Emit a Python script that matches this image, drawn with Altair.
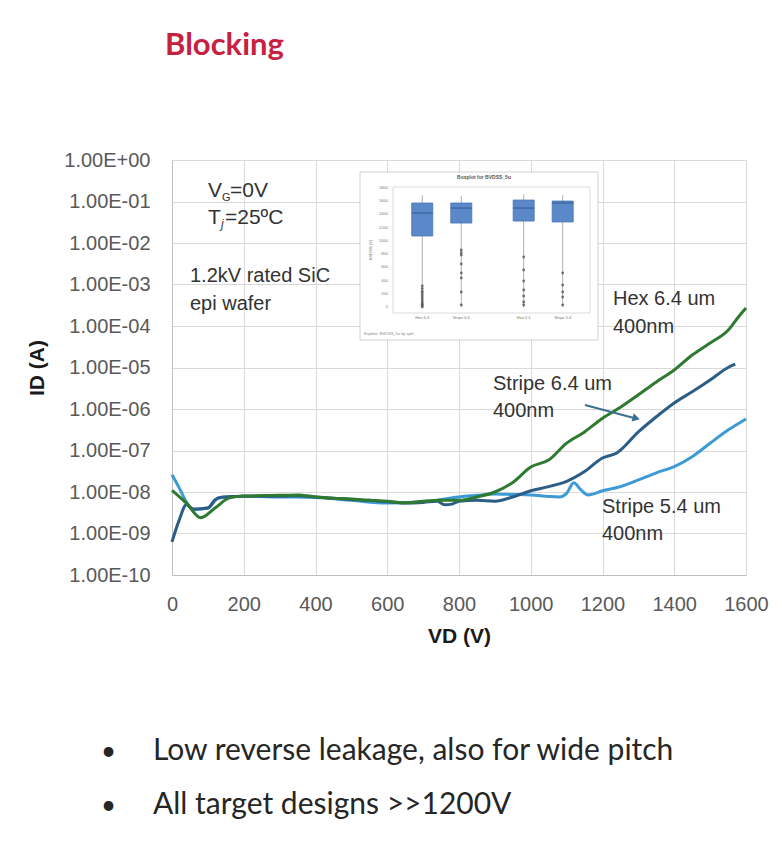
import altair as alt
import pandas as pd

# ---------------- main curves (VD in V, ID in A) ----------------
hex_v = [0, 40, 80, 120, 160, 200, 300, 350, 400, 450, 500, 550, 600, 650, 700, 750, 800, 850,
         900, 950, 1000, 1050, 1100, 1150, 1200, 1250, 1300, 1350, 1400, 1450, 1500, 1550, 1580, 1600]
hex_i = [1.1e-8, 5.4e-9, 2.4e-9, 4.1e-9, 7.2e-9, 8.0e-9, 8.3e-9, 8.5e-9, 7.6e-9, 7.1e-9, 6.8e-9,
         6.3e-9, 6.0e-9, 5.5e-9, 6.0e-9, 6.3e-9, 6.3e-9, 7.6e-9,
         1.0e-8, 1.7e-8, 4.0e-8, 5.9e-8, 1.5e-7, 2.8e-7, 6.0e-7, 1.1e-6, 2.2e-6, 4.5e-6, 8.7e-6,
         2.0e-5, 3.9e-5, 7.9e-5, 1.7e-4, 2.7e-4]

s64_v = [0, 20, 40, 60, 100, 120, 140, 200, 300, 350, 400, 450, 500, 550, 600, 650, 700, 740, 760,
         780, 800, 850, 900, 950, 1000, 1050, 1100, 1150, 1200, 1240, 1300, 1350, 1400, 1450, 1500,
         1550, 1570]
s64_i = [6.3e-10, 2.1e-9, 4.9e-9, 3.9e-9, 4.1e-9, 6.5e-9, 7.6e-9, 7.9e-9, 7.9e-9, 8.1e-9, 7.6e-9,
         7.1e-9, 6.6e-9, 6.3e-9, 5.8e-9, 5.4e-9, 5.6e-9, 6.0e-9, 4.9e-9, 5.1e-9, 6.0e-9, 6.3e-9,
         6.0e-9, 7.6e-9, 1.07e-8, 1.35e-8, 1.8e-8, 3.1e-8, 6.6e-8, 8.7e-8, 2.8e-7, 6.5e-7, 1.4e-6,
         2.6e-6, 5.0e-6, 1.0e-5, 1.2e-5]

s54_v = [0, 20, 40, 60, 80, 100, 130, 200, 300, 400, 500, 600, 700, 800, 850, 900, 950, 1000, 1050,
         1080, 1100, 1120, 1140, 1160, 1200, 1250, 1300, 1350, 1400, 1450, 1500, 1550, 1600]
s54_i = [2.6e-8, 1.26e-8, 5.8e-9, 3.7e-9, 3.9e-9, 4.1e-9, 7.2e-9, 7.9e-9, 7.6e-9, 7.4e-9, 6.3e-9,
         5.4e-9, 5.8e-9, 7.6e-9, 8.3e-9, 8.9e-9, 8.7e-9, 8.5e-9, 7.8e-9, 7.6e-9, 9.3e-9, 1.66e-8,
         1.12e-8, 8.5e-9, 1.07e-8, 1.35e-8, 1.95e-8, 2.9e-8, 4.1e-8, 7.1e-8, 1.5e-7, 3.1e-7, 5.75e-7]

y_ticks = [1e0, 1e-1, 1e-2, 1e-3, 1e-4, 1e-5, 1e-6, 1e-7, 1e-8, 1e-9, 1e-10]
x_ticks = [0, 200, 400, 600, 800, 1000, 1200, 1400, 1600]

# ---------------- inset boxplot (BVDSS, V) ----------------
box_pos = [1.0, 2.0, 3.6, 4.6]
box_q1 = [1074, 1270, 1300, 1286]
box_med = [1422, 1497, 1497, 1573]
box_q3 = [1573, 1573, 1618, 1603]
box_wlo = [0, 0, 0, 0]
box_whi = [1690, 1680, 1700, 1690]
box_labels = ["Hex 6.4", "Stripe 6.4", "Hex 5.4", "Stripe 5.4"]
out_pos = [1.0] * 12 + [2.0] * 8 + [3.6] * 7 + [4.6] * 5
out_val = [0, 20, 40, 60, 90, 120, 150, 180, 210, 240, 280, 320,
           862, 820, 787, 650, 514, 440, 227, 30,
           756, 560, 393, 257, 166, 76, 30,
           514, 333, 227, 151, 30]
inset_yticks = [0, 200, 400, 600, 800, 1000, 1200, 1400, 1600, 1800]

FONT = "Liberation Sans"
GREEN = "#2e7a30"
DKBLUE = "#2c5d86"
LTBLUE = "#3c9ad6"

xs = alt.Scale(domain=[0, 1600], nice=False, zero=False)
ys = alt.Scale(type="log", domain=[1e-10, 1], nice=False)


def curve(v, i, color):
    df = pd.DataFrame({"VD": v, "ID": i})
    return alt.Chart(df).mark_line(color=color, strokeWidth=3, interpolate="monotone").encode(
        x=alt.X("VD:Q", scale=xs, title="VD (V)",
                axis=alt.Axis(values=x_ticks, format="d", grid=True, gridColor="#d9d9d9",
                              domainColor="#bfbfbf",
                              ticks=False, tickSize=0, labelFont=FONT, labelFontSize=20,
                              labelColor="#595959", labelPadding=19, labelFlush=False,
                              titleFont=FONT, titleFontSize=21, titleFontWeight="bold",
                              titleColor="#1a1a1a", titlePadding=11)),
        y=alt.Y("ID:Q", scale=ys, title="ID (A)",
                axis=alt.Axis(values=y_ticks, grid=True, gridColor="#d9d9d9", domainColor="#bfbfbf",
                              ticks=False, tickSize=0, labelFont=FONT, labelFontSize=20,
                              labelColor="#595959", labelPadding=22, labelFlush=False,
                              labelExpr="'1.00E' + (round(log(datum.value)/LN10) < 0 ? '-' : '+') + "
                                        "(abs(round(log(datum.value)/LN10)) < 10 ? '0' : '') + "
                                        "abs(round(log(datum.value)/LN10))",
                              titleFont=FONT, titleFontSize=21, titleFontWeight="bold",
                              titleColor="#1a1a1a", titlePadding=16)),
    )


main = alt.layer(curve(s54_v, s54_i, LTBLUE), curve(s64_v, s64_i, DKBLUE), curve(hex_v, hex_i, GREEN))

# ---------------- inset ----------------
one = pd.DataFrame({"k": [0]})
ix = alt.Scale(domain=[0.25, 5.3], range=[221, 418], nice=False, zero=False)
iy = alt.Scale(domain=[0, 1800], range=[147, 28], nice=False, zero=False)
box_df = pd.DataFrame({"pos": box_pos, "q1": box_q1, "med": box_med, "q3": box_q3,
                       "wlo": box_wlo, "whi": box_whi, "lab": box_labels})
box_df["l"] = box_df["pos"] - 0.27
box_df["r"] = box_df["pos"] + 0.27
out_df = pd.DataFrame({"pos": out_pos, "val": out_val})
itk_df = pd.DataFrame({"v": inset_yticks})

frame = alt.Chart(one).mark_rect(fill="white", stroke="#d0d0d0", strokeWidth=1).encode(
    x=alt.value(188), x2=alt.value(426), y=alt.value(12), y2=alt.value(180))
inner = alt.Chart(one).mark_rect(fill="white", stroke="#dcdcdc", strokeWidth=1).encode(
    x=alt.value(221), x2=alt.value(418), y=alt.value(27), y2=alt.value(153))
whisk = alt.Chart(box_df).mark_rule(color="#9a9a9a", strokeWidth=0.8).encode(
    x=alt.X("pos:Q", scale=ix, axis=None), y=alt.Y("wlo:Q", scale=iy, axis=None), y2="whi:Q")
boxes = alt.Chart(box_df).mark_rect(fill="#5b88c9", stroke="#4a76b6", strokeWidth=0.8).encode(
    x=alt.X("l:Q", scale=ix, axis=None), x2="r:Q",
    y=alt.Y("q1:Q", scale=iy, axis=None), y2="q3:Q")
meds = alt.Chart(box_df).mark_rule(color="#35598f", strokeWidth=1).encode(
    x=alt.X("l:Q", scale=ix, axis=None), x2="r:Q", y=alt.Y("med:Q", scale=iy, axis=None))
outs = alt.Chart(out_df).mark_point(shape="circle", color="#555555", size=8, filled=True, opacity=0.8).encode(
    x=alt.X("pos:Q", scale=ix, axis=None), y=alt.Y("val:Q", scale=iy, axis=None))
itk = alt.Chart(itk_df).mark_text(align="right", baseline="middle", fontSize=4, color="#777777", font=FONT).encode(
    x=alt.value(216), y=alt.Y("v:Q", scale=iy, axis=None), text="v:Q")
ilab = alt.Chart(box_df).mark_text(align="center", baseline="top", fontSize=4, color="#777777", font=FONT).encode(
    x=alt.X("pos:Q", scale=ix, axis=None), y=alt.value(156), text="lab:N")

inset = alt.layer(frame, inner, whisk, boxes, meds, outs, itk, ilab)


# ---------------- text annotations (pixel positions relative to plot area) ----------------
def txt(s, x, y, size, color="#333333", weight="normal", font=FONT, align="left", style="normal", angle=0):
    kw = dict(align=align, baseline="alphabetic", fontSize=size, color=color, fontWeight=weight,
              font=font, fontStyle=style)
    if angle:
        kw["angle"] = angle
    return alt.Chart(pd.DataFrame({"t": [s]})).mark_text(**kw).encode(
        x=alt.value(x), y=alt.value(y), text="t:N")


ann = [
    txt("V", 36, 37, 21),
    txt("G", 50, 41, 11),
    txt("=0V", 58, 37, 21),
    txt("T", 36, 64, 21),
    txt("j", 49, 68, 12, style="italic"),
    txt("=25ºC", 53, 64, 21),
    txt("1.2kV rated SiC", 18, 122, 20),
    txt("epi wafer", 18, 150, 20),
    txt("Hex 6.4 um", 441, 145, 20),
    txt("400nm", 441, 173, 20),
    txt("Stripe 6.4 um", 321, 230, 20),
    txt("400nm", 321, 257, 20),
    txt("Stripe 5.4 um", 430, 353, 20),
    txt("400nm", 430, 380, 20),
    txt("Boxplot for BVDSS_5u", 312, 19, 5, color="#555555", weight="bold", align="center"),
    txt("BVDSS (V)", 200, 90, 4, color="#777777", align="center", angle=270),
    txt("Explore: BVDSS_5u by split", 192, 175, 4, color="#888888"),
    # outside the plot: title and bullets
    txt("Blocking", -7, -105, 31, color="#c8213f", weight="bold", font="Lato"),
    txt("•", -71, 600, 26, color="#262626", font="Lato"),
    txt("Low reverse leakage, also for wide pitch", -19, 600, 30, color="#262626", font="Lato"),
    txt("•", -71, 654, 26, color="#262626", font="Lato"),
    txt("All target designs >>1200V", -19, 654, 30, color="#262626", font="Lato"),
]

arrow_line = alt.Chart(one).mark_rule(color="#3b6f8f", strokeWidth=2).encode(
    x=alt.value(413), x2=alt.value(462), y=alt.value(245), y2=alt.value(258))
arrow_head = alt.Chart(one).mark_point(shape="triangle", filled=True, color="#3b6f8f", size=70,
                                       angle=104, opacity=1).encode(
    x=alt.value(463), y=alt.value(258))

chart = alt.layer(main, inset, arrow_line, arrow_head, *ann).resolve_scale(
    x="independent", y="independent"
).properties(
    width=574, height=415,
    autosize=alt.AutoSizeParams(type="none"),
    padding={"left": 164, "top": 152, "right": 26, "bottom": 250},
    background="white",
).configure_view(stroke=None)

chart.save("out.html", embed_options={"renderer": "svg", "actions": False})
